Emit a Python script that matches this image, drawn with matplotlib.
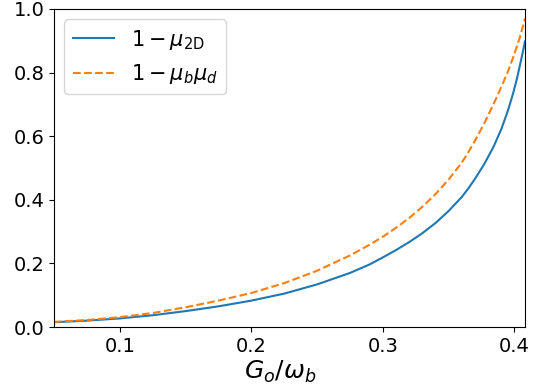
import matplotlib
matplotlib.use("Agg")
import matplotlib.pyplot as plt

# x values (G_o / omega_b)
x_vals = [0.050, 0.075, 0.100, 0.125, 0.150, 0.175, 0.200, 0.225, 0.250, 0.275,
          0.290, 0.300, 0.310, 0.320, 0.330, 0.340, 0.350, 0.360, 0.365, 0.370,
          0.377, 0.384, 0.390, 0.395, 0.399, 0.402, 0.404, 0.406, 0.407, 0.408]
# 1 - mu_2D
mu2d_vals = [0.015, 0.020, 0.027, 0.037, 0.050, 0.065, 0.083, 0.105, 0.134, 0.170,
             0.197, 0.219, 0.242, 0.267, 0.295, 0.327, 0.365, 0.409, 0.436, 0.466,
             0.512, 0.566, 0.622, 0.680, 0.735, 0.783, 0.820, 0.858, 0.878, 0.898]
# 1 - mu_b mu_d
mubmud_vals = [0.016, 0.022, 0.031, 0.044, 0.062, 0.083, 0.107, 0.138, 0.177, 0.225,
               0.259, 0.284, 0.312, 0.343, 0.378, 0.418, 0.464, 0.517, 0.550, 0.586,
               0.640, 0.700, 0.755, 0.803, 0.848, 0.884, 0.910, 0.939, 0.954, 0.970]

fig = plt.figure(figsize=(5.41, 3.90), dpi=100)
ax = fig.add_axes([0.0998, 0.1615, 0.8706, 0.8155])
ax.plot(x_vals, mu2d_vals, color="#1f77b4", lw=1.5, label=r"$1-\mu_{\mathrm{2D}}$")
ax.plot(x_vals, mubmud_vals, color="#ff7f0e", lw=1.5, ls="--", label=r"$1-\mu_b\mu_d$")
ax.set_xlim(0.05, 0.408)
ax.set_ylim(0.0, 1.0)
ax.set_xticks([0.1, 0.2, 0.3, 0.4])
ax.set_yticks([0.0, 0.2, 0.4, 0.6, 0.8, 1.0])
ax.tick_params(labelsize=14)
ax.set_xlabel(r"$G_o/\omega_b$", fontsize=18, labelpad=2)
ax.xaxis.set_label_coords(0.48, -0.1)
ax.xaxis.label.set_va("top")
ax.legend(loc="upper left", fontsize=15)
fig.savefig("out.png", dpi=100)
